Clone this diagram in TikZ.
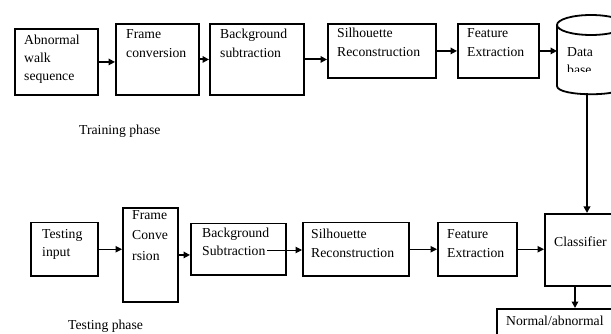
\documentclass[tikz,border=0pt]{standalone}
\usepackage{fontspec}
\setmainfont{Liberation Serif}
\usetikzlibrary{arrows.meta}
\tikzset{
  thickbox/.style={draw, line width=1.9pt, rectangle, inner sep=0pt, anchor=north west},
  thinbox/.style={draw, line width=1.5pt, rectangle, inner sep=0pt, anchor=north west},
  lbl/.style={anchor=base west, inner sep=0pt, font=\fontsize{13.7}{15}\selectfont},
  thickarr/.style={line width=1.9pt, -{Triangle[length=6.5pt,width=6.5pt]}},
  thinarr/.style={line width=1pt, -{Triangle[length=6.5pt,width=6.5pt]}},
}
\begin{document}
\begin{tikzpicture}[x=1pt,y=-1pt]
\clip (0,0) rectangle (611,334);
\fill[white] (0,0) rectangle (611,334);
% training row boxes
\node[thickbox, minimum width=83pt, minimum height=66pt] (abn) at (14,28) {};
\node[thickbox, minimum width=83pt, minimum height=71pt] (fc) at (115,23) {};
\node[thickbox, minimum width=94pt, minimum height=71pt] (bs) at (209,23) {};
\node[thickbox, minimum width=108pt, minimum height=54pt] (sr) at (327,23) {};
\node[thickbox, minimum width=81pt, minimum height=54pt] (fe) at (457,23) {};
\node[inner sep=0pt, minimum width=68pt, minimum height=78pt, anchor=north west] (db) at (557,15) {};
% cylinder
\draw[line width=1.8pt] (591,25) ellipse [x radius=34, y radius=10];
\draw[line width=1.8pt] (557,25) -- (557,86) .. controls (557,97) and (625,97) .. (625,86) -- (625,25);
% training texts
\node[lbl] (t1) at (24,45) {Abnormal};
\node[lbl] (t2) at (24,63) {walk};
\node[lbl] (t3) at (24,81) {sequence};
\node[lbl] (t4) at (126,39) {Frame};
\node[lbl] (t5) at (126,58) {conversion};
\node[lbl] (t6) at (220,39) {Background};
\node[lbl] (t7) at (220,58) {subtraction};
\node[lbl] (t8) at (337,38) {Silhouette};
\node[lbl] (t9) at (337,57) {Reconstruction};
\node[lbl] (t10) at (467,38) {Feature};
\node[lbl] (t11) at (467,57) {Extraction};
\node[lbl] (t12) at (567,57) {Data};
\begin{scope}
\clip (560,62) rectangle (600,72);
\node[lbl] (t13) at (567,75) {base};
\end{scope}
\node[lbl] (tp) at (79,135) {Training phase};
% training arrows
\draw[thickarr] (abn.east) -- (abn.east -| fc.west);
\draw[thickarr] (fc.east) -- (fc.east -| bs.west);
\draw[thickarr] (bs.east) -- (bs.east -| sr.west);
\draw[thickarr] (sr.east) -- (sr.east -| fe.west);
\draw[thickarr] (fe.east) -- (fe.east -| db.west);
% testing row boxes
\node[thinbox, minimum width=67pt, minimum height=53pt] (ti) at (30,222) {};
\node[thickbox, minimum width=55pt, minimum height=94pt] (fc2) at (122,207) {};
\node[thinbox, minimum width=95pt, minimum height=51pt] (bs2) at (190,223) {};
\node[thinbox, minimum width=106pt, minimum height=53pt] (sr2) at (302,222) {};
\node[thinbox, minimum width=79pt, minimum height=53pt] (fe2) at (437,222) {};
\node[thickbox, minimum width=81pt, minimum height=72pt] (cl) at (544,213) {};
\node[thickbox, minimum width=129pt, minimum height=40pt] (na) at (496,308) {};
% testing texts
\node[lbl] (s1) at (42,238) {Testing};
\node[lbl] (s2) at (42,256) {input};
\node[lbl] (s3) at (132,220) {Frame};
\node[lbl] (s4) at (132,240) {Conve};
\node[lbl] (s5) at (132,261) {rsion};
\node[lbl] (s6) at (202,237) {Background};
\node[lbl] (s7) at (202,255) {Subtraction};
\node[lbl] (s8) at (311,238) {Silhouette};
\node[lbl] (s9) at (311,257) {Reconstruction};
\node[lbl] (s10) at (447,238) {Feature};
\node[lbl] (s11) at (447,257) {Extraction};
\node[lbl] (s12) at (554,247) {Classifier};
\node[lbl] (s13) at (506,325) {Normal/abnormal};
\node[lbl] (sp) at (68,329) {Testing phase};
% testing arrows
\coordinate (bsin) at (267,250);
\coordinate (dbout) at (587,93);
\coordinate (clout) at (575,285);
\draw[thinarr] (ti.east) -- (ti.east -| fc2.west);
\draw[thickarr] (fc2.east) -- (fc2.east -| bs2.west);
\draw[thinarr] (bsin) -- (bsin -| sr2.west);
\draw[thinarr] (sr2.east) -- (sr2.east -| fe2.west);
\draw[thinarr] (fe2.east) -- (fe2.east -| cl.west);
\draw[thickarr] (dbout) -- (dbout |- cl.north);
\draw[thickarr] (clout) -- (clout |- na.north);
\end{tikzpicture}
\end{document}
